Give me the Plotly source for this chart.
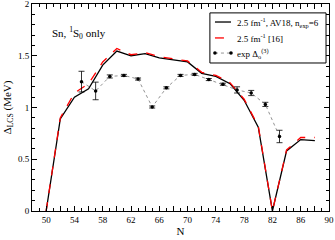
import plotly.graph_objects as go

# Theory curves (even N)
n_theory = [50, 52, 54, 56, 58, 60, 62, 64, 66, 68, 70, 72, 74, 76, 78, 80, 82, 84, 86, 88]
gap_av18 = [0.0, 0.89, 1.10, 1.18, 1.41, 1.545, 1.50, 1.52, 1.48, 1.46, 1.44, 1.33, 1.30, 1.23, 1.07, 0.81, 0.0, 0.58, 0.69, 0.68]
gap_ref16 = [0.0, 0.90, 1.14, 1.23, 1.44, 1.57, 1.51, 1.53, 1.49, 1.47, 1.45, 1.34, 1.31, 1.24, 1.08, 0.82, 0.0, 0.59, 0.71, 0.71]

# Experimental odd-even staggering (odd N)
n_exp = [55, 57, 59, 61, 63, 65, 67, 69, 71, 73, 75, 77, 79, 81, 83]
gap_exp = [1.25, 1.16, 1.30, 1.31, 1.275, 1.005, 1.19, 1.31, 1.32, 1.27, 1.225, 1.17, 1.14, 1.03, 0.72]
err_exp = [0.10, 0.085, 0.015, 0.01, 0.01, 0.01, 0.01, 0.01, 0.01, 0.01, 0.01, 0.03, 0.025, 0.02, 0.06]

series_names = ["2.5 fm<sup>-1</sup>, AV18, n<sub>exp</sub>=6", "2.5 fm<sup>-1</sup> [16]", "exp Δ<sub>o</sub><sup>(3)</sup>"]

x_tick_vals = list(range(50, 91, 2))
x_tick_text = [str(v) if v % 4 == 2 else "" for v in x_tick_vals]
y_tick_vals = [0, 0.5, 1, 1.5, 2]
y_tick_text = ["0", "0.5", "1", "1.5", "2"]

serif = "Liberation Serif, DejaVu Serif"

styles = [
    dict(color="black", width=1.3, dash="solid"),
    dict(color="red", width=1.3, dash="dash"),
    dict(color="#777777", width=0.8, dash="dot"),
]

fig = go.Figure()
fig.add_trace(go.Scatter(x=n_theory, y=gap_av18, mode="lines", line=styles[0],
                         name=series_names[0], showlegend=False))
fig.add_trace(go.Scatter(x=n_theory, y=gap_ref16, mode="lines", line=styles[1],
                         name=series_names[1], showlegend=False))
fig.add_trace(go.Scatter(
    x=n_exp, y=gap_exp, mode="lines+markers", line=styles[2],
    marker=dict(color="black", size=3.5),
    error_y=dict(type="data", array=err_exp, color="black", thickness=0.8, width=3),
    name=series_names[2], showlegend=False))

fig.add_annotation(x=50.5, y=1.72, xref="x", yref="y", xanchor="left", yanchor="middle",
                   text="Sn, <sup>1</sup>S<sub>0</sub> only", showarrow=False,
                   font=dict(family=serif, size=11, color="black"))

# Hand-built legend box (paper coordinates) to match the compact original legend
lx0, lx1, ly0, ly1 = 0.599, 0.990, 0.715, 0.957
row_y = [0.913, 0.836, 0.763]
sx0, sx1, tx = 0.616, 0.670, 0.684
fig.add_shape(type="rect", xref="paper", yref="paper", x0=lx0, x1=lx1, y0=ly0, y1=ly1,
              line=dict(color="black", width=1), fillcolor="white", layer="above")
for name, st, ry in zip(series_names, styles, row_y):
    fig.add_shape(type="line", xref="paper", yref="paper", x0=sx0, x1=sx1, y0=ry, y1=ry,
                  line=st, layer="above")
    fig.add_annotation(x=tx, y=ry, xref="paper", yref="paper", xanchor="left", yanchor="middle",
                       text=name, showarrow=False, font=dict(family=serif, size=9, color="black"))
for sx in (sx0, sx1):
    fig.add_shape(type="circle", xref="paper", yref="paper", xsizemode="pixel", ysizemode="pixel",
                  xanchor=sx, yanchor=row_y[2], x0=-1.8, x1=1.8, y0=-1.8, y1=1.8,
                  fillcolor="black", line=dict(color="black", width=0), layer="above")

axis_common = dict(
    showline=True, linecolor="black", linewidth=1, mirror="ticks",
    ticks="inside", ticklen=5, tickcolor="black", tickwidth=1,
    showgrid=False, zeroline=False, automargin=False, ticklabeloverflow="allow",
    tickfont=dict(family=serif, size=9, color="black"),
)
fig.update_xaxes(range=[48, 90], tickmode="array", tickvals=x_tick_vals, ticktext=x_tick_text,
                 minor=dict(dtick=1, ticks="inside", ticklen=3, tickcolor="black", showgrid=False),
                 title=dict(text="N", font=dict(family=serif, size=11, color="black"), standoff=0),
                 **axis_common)
fig.update_yaxes(range=[0, 2], tickmode="array", tickvals=y_tick_vals, ticktext=y_tick_text,
                 minor=dict(dtick=0.1, ticks="inside", ticklen=3, tickcolor="black", showgrid=False),
                 title=dict(text="Δ<sub>LCS</sub> (MeV)", font=dict(family=serif, size=11, color="black"), standoff=4),
                 **axis_common)

fig.update_layout(
    width=335, height=240,
    margin=dict(l=32, r=6, t=4, b=29, autoexpand=False),
    plot_bgcolor="white", paper_bgcolor="white",
    showlegend=False,
)

fig.write_html("out.html", config={"displayModeBar": False},
               post_script="document.body.style.margin='0';document.body.style.padding='0';")
